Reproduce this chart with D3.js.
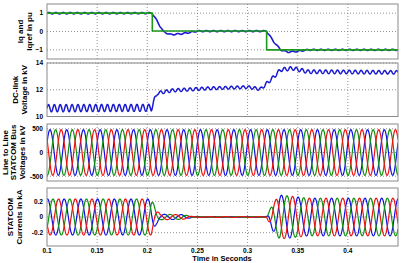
<!doctype html>
<html lang="en">
<head>
  <meta charset="utf-8">
  <title>STATCOM response</title>
  <script src="https://d3js.org/d3.v7.min.js"></script>
</head>
<body style="margin: 0; background: #fff;">
  <svg width="403" height="263"></svg>
  <script>
    // time axis
    var timeDomain = [0.1, 0.45];
    var timeTicks = [0.1, 0.15, 0.2, 0.25, 0.3, 0.35, 0.4];

    // panel 1: Iq and Iqref (pu)
    var iqrefT = [0.1, 0.205, 0.205, 0.319, 0.319, 0.45];
    var iqrefV = [1, 1, 0.03, 0.03, -1, -1];
    var iqT = [0.1, 0.205, 0.216, 0.223, 0.235, 0.25, 0.319, 0.326, 0.333, 0.34, 0.35, 0.36, 0.45];
    var iqV = [1, 1, 0.0, -0.17, -0.12, 0.02, 0.02, -0.55, -1.0, -1.12, -1.08, -1.0, -1.0];
    var iqRippleT = [0.1, 0.205, 0.25, 0.45];
    var iqRippleV = [0.04, 0.035, 0.03, 0.03];
    var iqTicks = [-1, 0, 1];

    // panel 2: DC-link voltage (kV)
    var dcT = [0.1, 0.204, 0.21, 0.225, 0.26, 0.3, 0.313, 0.326, 0.333, 0.345, 0.36, 0.45];
    var dcV = [10.62, 10.65, 11.75, 11.95, 12.1, 12.2, 12.05, 12.95, 13.5, 13.6, 13.35, 13.3];
    var dcRippleT = [0.1, 0.204, 0.21, 0.3, 0.33, 0.45];
    var dcRippleV = [0.27, 0.26, 0.12, 0.1, 0.14, 0.13];
    var dcTicks = [10, 12, 14];

    // panel 3: line to line STATCOM bus voltages (kV)
    var vAmpT = [0.1, 0.45];
    var vAmpV = [480, 480];
    var vTicks = [-500, 0, 500];

    // panel 4: STATCOM currents (kA)
    var iAmpT = [0.1, 0.204, 0.209, 0.213, 0.235, 0.246, 0.319, 0.325, 0.332, 0.34, 0.36, 0.45];
    var iAmpV = [0.23, 0.23, 0.09, 0.035, 0.03, 0.004, 0.004, 0.17, 0.28, 0.27, 0.24, 0.24];
    var iTicks = [-0.2, 0, 0.2];

    var gridFreq = 60;
    var phaseColors = ["#1010e0", "#109010", "#ee1010"];
    var phaseShift = [0, -120, 120];

    var svg = d3.select("svg");
    var x = d3.scaleLinear().domain(timeDomain).range([47, 398]);
    var samples = d3.range(timeDomain[0], timeDomain[1] + 0.00001, 0.0002);

    function keyScale(ts, vs) { return d3.scaleLinear().domain(ts).range(vs).clamp(true); }

    function panel(top, bottom, domain, ticks, fmt, title, titleX) {
      var y = d3.scaleLinear().domain(domain).range([bottom, top]);
      var g = svg.append("g");
      g.append("clipPath").attr("id", "c" + top)
        .append("rect").attr("x", 47).attr("y", top).attr("width", 351).attr("height", bottom - top);
      // grid
      g.selectAll(".vg").data(timeTicks.slice(1)).enter().append("line")
        .attr("x1", d => x(d)).attr("x2", d => x(d)).attr("y1", top).attr("y2", bottom)
        .attr("stroke", "#777").attr("stroke-dasharray", "1,2").attr("stroke-width", 0.8);
      g.selectAll(".hg").data(ticks).enter().append("line")
        .attr("x1", 47).attr("x2", 398).attr("y1", d => y(d)).attr("y2", d => y(d))
        .attr("stroke", "#777").attr("stroke-dasharray", "1,2").attr("stroke-width", 0.8);
      // y tick labels
      g.selectAll(".yt").data(ticks).enter().append("text")
        .attr("x", 43).attr("y", d => y(d) + 2.3).attr("text-anchor", "end")
        .attr("font-family", "Liberation Sans, Arial, sans-serif").attr("font-weight", "bold")
        .attr("font-size", "6.5px").text(fmt);
      // title
      var cy = (top + bottom) / 2;
      var t = g.append("text").attr("transform", "translate(0," + cy + ") rotate(-90)")
        .attr("text-anchor", "middle")
        .attr("font-family", "Liberation Sans, Arial, sans-serif").attr("font-weight", "bold")
        .attr("font-size", "8px");
      title.forEach(function(s, i) {
        t.append("tspan").attr("x", 0).attr("y", titleX[i]).text(s);
      });
      var plot = g.append("g").attr("clip-path", "url(#c" + top + ")");
      return { y: y, g: g, plot: plot, top: top, bottom: bottom };
    }

    function frame(p) {
      p.g.append("rect").attr("x", 47).attr("y", p.top).attr("width", 351).attr("height", p.bottom - p.top)
        .attr("fill", "none").attr("stroke", "#8a8a8a").attr("stroke-width", 1);
    }

    function drawLine(p, pts, color, width) {
      p.plot.append("path").datum(pts)
        .attr("d", d3.line().x(d => x(d[0])).y(d => p.y(d[1])))
        .attr("fill", "none").attr("stroke", color).attr("stroke-width", width)
        .attr("stroke-linejoin", "round");
    }

    // panel 1
    var p1 = panel(4, 59, [-1.5, 1.5], iqTicks, d => d3.format("d")(d), ["Iq and", "Iqref in pu"], [23, 32]);
    var iqBase = keyScale(iqT, iqV), iqRip = keyScale(iqRippleT, iqRippleV);
    drawLine(p1, samples.map(t => [t, iqBase(t) + iqRip(t) * Math.sin(2 * Math.PI * 140 * t)]), "#1a1ad0", 1.6);
    drawLine(p1, d3.zip(iqrefT, iqrefV), "#1c9a1c", 1.6);
    frame(p1);

    // panel 2
    var p2 = panel(63, 116.5, [10, 14], dcTicks, d => d, ["DC-link", "Voltage in kV"], [18, 27]);
    var dcBase = keyScale(dcT, dcV), dcRip = keyScale(dcRippleT, dcRippleV);
    drawLine(p2, samples.map(t => [t, dcBase(t) + dcRip(t) * Math.sin(2 * Math.PI * 170 * t)]), "#1a1ad0", 1.5);
    frame(p2);

    // panel 3
    var p3 = panel(124, 181, [-600, 600], vTicks, d => d, ["Line to Line", "STATCOM Bus", "Voltages in kV"], [7.5, 16, 24.5]);
    var vAmp = keyScale(vAmpT, vAmpV);
    phaseColors.forEach(function(c, k) {
      drawLine(p3, samples.map(t => [t, vAmp(t) * Math.sin(2 * Math.PI * gridFreq * t + (25 + phaseShift[k]) * Math.PI / 180)]), c, 1.2);
    });
    frame(p3);

    // panel 4
    var p4 = panel(188, 246, [-0.37, 0.37], iTicks, d => d, ["STATCOM", "Currents in kA"], [13, 22]);
    var iAmp = keyScale(iAmpT, iAmpV);
    phaseColors.forEach(function(c, k) {
      drawLine(p4, samples.map(t => [t, iAmp(t) * Math.sin(2 * Math.PI * gridFreq * t + (80 + phaseShift[k]) * Math.PI / 180)]), c, 1.2);
    });
    frame(p4);

    // x axis labels
    svg.selectAll(".xt").data(timeTicks).enter().append("text")
      .attr("x", d => x(d)).attr("y", 253).attr("text-anchor", "middle")
      .attr("font-family", "Liberation Sans, Arial, sans-serif").attr("font-weight", "bold")
      .attr("font-size", "6.5px").text(d => d);
    svg.append("text").attr("x", 222).attr("y", 261).attr("text-anchor", "middle")
      .attr("font-family", "Liberation Sans, Arial, sans-serif").attr("font-weight", "bold")
      .attr("font-size", "7.5px").text("Time in Seconds");
  </script>
</body>
</html>
